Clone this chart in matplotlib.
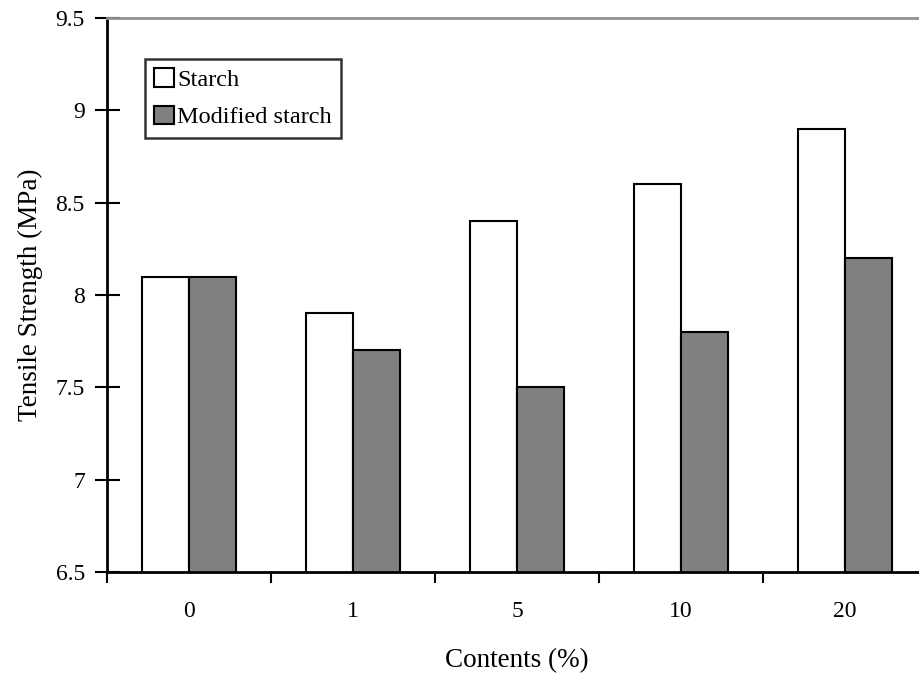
import matplotlib
matplotlib.use("Agg")
import matplotlib.pyplot as plt
import numpy as np

categories = ["0", "1", "5", "10", "20"]
starch = [8.1, 7.9, 8.4, 8.6, 8.9]
modified_starch = [8.1, 7.7, 7.5, 7.8, 8.2]
y_ticks = [6.5, 7, 7.5, 8, 8.5, 9, 9.5]
y_tick_labels = ["6.5", "7", "7.5", "8", "8.5", "9", "9.5"]

plt.rcParams["font.family"] = ["Liberation Serif", "DejaVu Serif"]

W, H = 919, 675
fig = plt.figure(figsize=(W / 100, H / 100), dpi=100)
ax = fig.add_axes([107 / W, (H - 572) / H, 820 / W, 554 / H])

x = np.arange(len(categories))
bw = 0.287
ax.bar(x - bw / 2, starch, bw, color="white", edgecolor="black",
       linewidth=1.5, label="Starch", zorder=2)
ax.bar(x + bw / 2, modified_starch, bw, color="#808080", edgecolor="black",
       linewidth=1.5, label="Modified starch", zorder=2)

ax.set_xlim(-0.5, len(categories) - 0.5)
ax.set_ylim(6.5, 9.5)
ax.set_yticks(y_ticks)
ax.set_yticklabels(y_tick_labels)
ax.set_xticks(np.arange(len(categories) + 1) - 0.5)
ax.set_xticklabels([])
ax.set_xticks(x, minor=True)
ax.set_xticklabels(categories, minor=True)
ax.tick_params(axis="x", which="minor", length=0, pad=21, labelsize=17)
ax.tick_params(axis="x", which="major", direction="out", length=8, width=1.5)
ax.tick_params(axis="y", direction="inout", length=18, width=1.5, labelsize=17, pad=7)

for s in ["left", "bottom"]:
    ax.spines[s].set_linewidth(2)
ax.spines["right"].set_visible(False)
ax.spines["top"].set_color("#909090")
ax.spines["top"].set_linewidth(2)

ax.set_xlabel("Contents (%)", fontsize=19.5, labelpad=19)
ax.set_ylabel("Tensile Strength (MPa)", fontsize=19.5, labelpad=9)

leg = ax.legend(loc="upper left", bbox_to_anchor=((145 - 107) / 820, (572 - 59) / 554),
                fontsize=17.5, frameon=True, fancybox=False, edgecolor="black",
                handlelength=0.8, handleheight=0.8, handletextpad=0.15,
                borderpad=0.38, labelspacing=0.6, borderaxespad=0)
leg.get_frame().set_linewidth(1.8)

fig.savefig("out.png", dpi=100)
